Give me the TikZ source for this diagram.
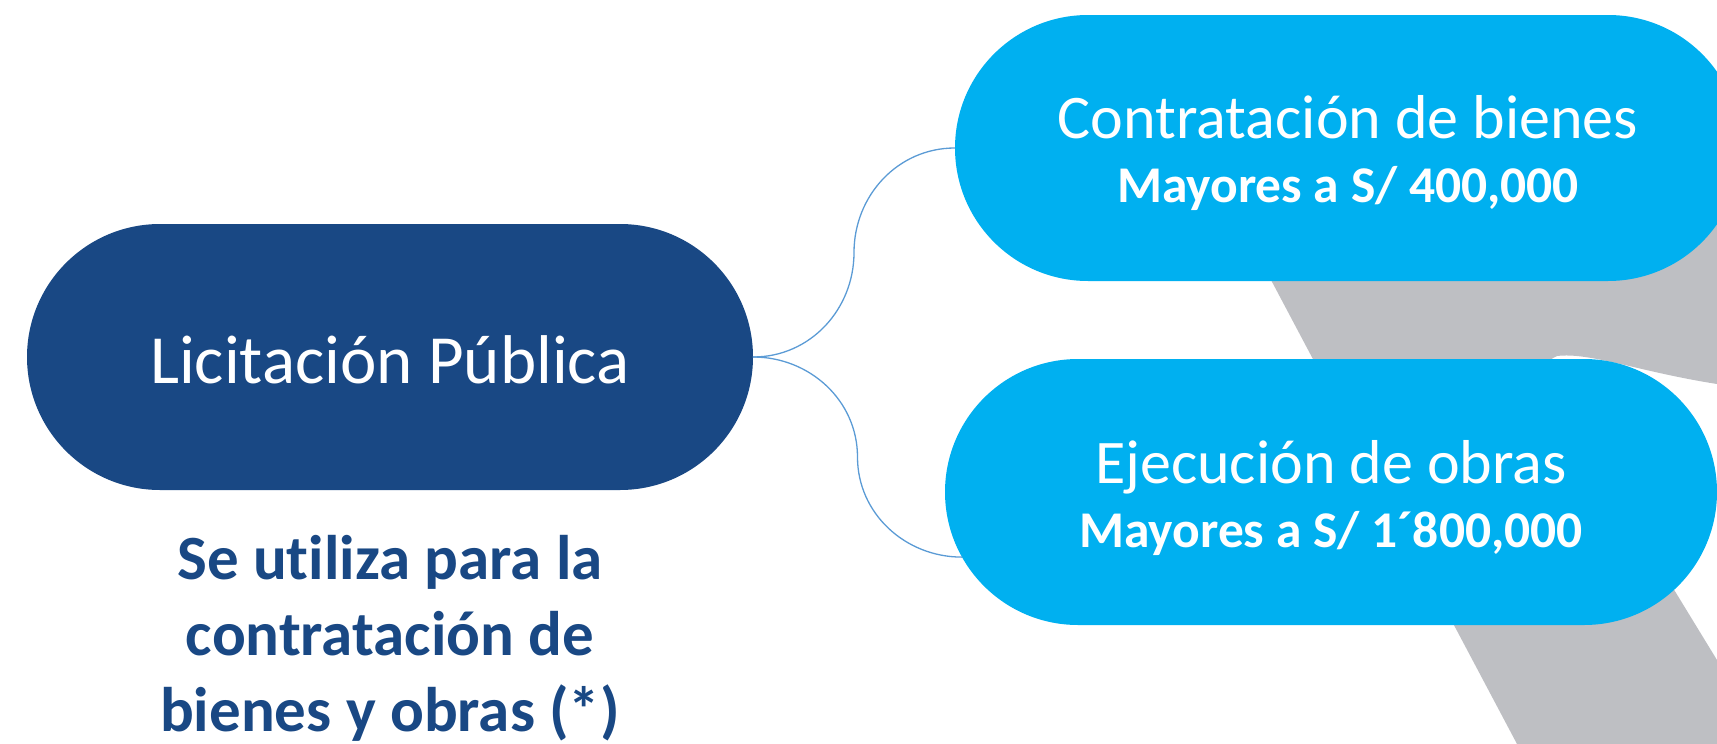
\documentclass[tikz,border=0pt]{standalone}
\usepackage{fontspec}
\setmainfont{Carlito}[Ligatures=NoCommon]
\usetikzlibrary{shapes.misc,calc}
\definecolor{navy}{HTML}{194884}
\definecolor{sky}{HTML}{00B0F0}
\definecolor{ash}{HTML}{BEBFC3}
\definecolor{wire}{HTML}{5B9BD5}
\begin{document}
\begin{tikzpicture}[x=1pt, y=1pt, line join=round, line cap=round,
  pill/.style={rounded rectangle, minimum height=266pt, inner sep=0pt, text=white, align=center, text depth=0pt},
  link/.style={draw=wire, line width=1.3pt}]
\useasboundingbox (0,0) rectangle (1717,-744);
\clip (0,0) rectangle (1717,-744);
% grey band behind the boxes
\fill[ash] (1218,-180) -- (1717,-180) -- (1717,-384) .. controls (1640,-372) and (1590,-352) .. (1557,-356) -- (1540,-365) -- (1673,-588) -- (1717,-660) -- (1717,-744) -- (1517,-744) -- cycle;
\node (lic) at (390,-357) [pill, fill=navy, minimum width=726pt, text height=52pt, font=\fontsize{69}{83}\selectfont] {Licitación Pública};
\node (bienes) at (1348,-148) [pill, fill=sky, minimum width=786pt, text height=108pt, font=\fontsize{62}{64}\selectfont] {Contratación de bienes\\{\fontsize{51.5}{64}\selectfont\bfseries Mayores a S/ 400,000}};
\node (obras) at (1331,-492) [pill, fill=sky, minimum width=772pt, text height=110pt, font=\fontsize{62}{64}\selectfont] {Ejecución de obras\\{\fontsize{51.5}{64}\selectfont\bfseries Mayores a S/ 1´800,000}};
\node (uso) at (390,-632) [text=navy, align=center, inner sep=0pt, text height=198pt, text depth=0pt, font=\fontsize{63}{76}\selectfont\bfseries] {Se utiliza para la\\contratación de\\bienes y obras (*)};
\draw[link] (lic.east) to[out=0,in=-90] ($(lic.east)!.5!(bienes.west)$) to[out=90,in=180] (bienes.west);
\draw[link] (lic.east) to[out=0,in=90] ($(lic.east)!.5!(obras.190)$) to[out=-90,in=180] (obras.190);
\end{tikzpicture}
\end{document}
